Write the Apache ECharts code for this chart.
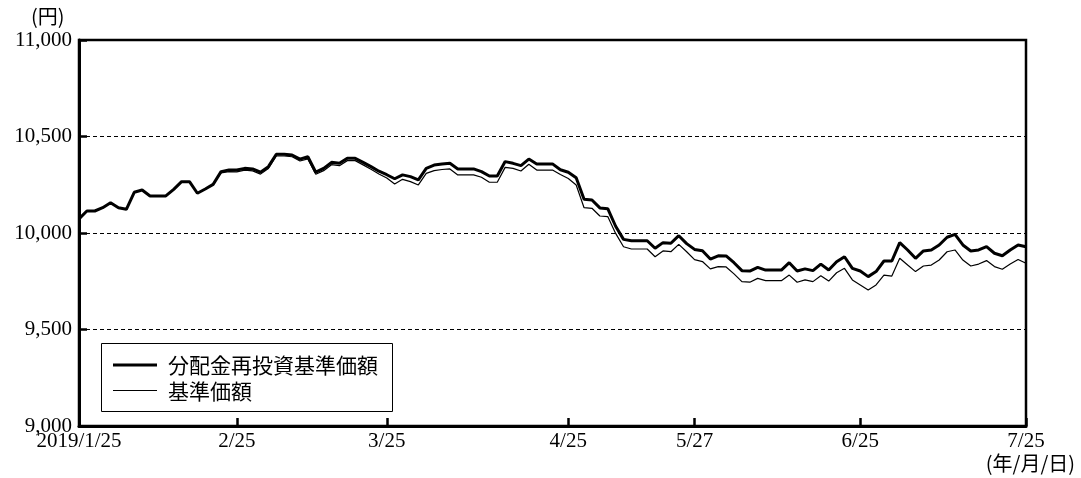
<!DOCTYPE html>
<html>
<head>
<meta charset="utf-8">
<script src="https://cdn.jsdelivr.net/npm/echarts@6/dist/echarts.min.js"></script>
<style>
html,body{margin:0;padding:0;background:#fff;}
#chart{width:1081px;height:478px;}
</style>
</head>
<body>
<div id="chart"></div>
<script>
// Business days (categories)
const dates = [
'2019/1/25','2019/1/28','2019/1/29','2019/1/30','2019/1/31',
'2019/2/1','2019/2/4','2019/2/5','2019/2/6','2019/2/7','2019/2/8','2019/2/12','2019/2/13','2019/2/14','2019/2/15','2019/2/18','2019/2/19','2019/2/20','2019/2/21','2019/2/22','2019/2/25','2019/2/26','2019/2/27','2019/2/28',
'2019/3/1','2019/3/4','2019/3/5','2019/3/6','2019/3/7','2019/3/8','2019/3/11','2019/3/12','2019/3/13','2019/3/14','2019/3/15','2019/3/18','2019/3/19','2019/3/20','2019/3/22','2019/3/25','2019/3/26','2019/3/27','2019/3/28','2019/3/29',
'2019/4/1','2019/4/2','2019/4/3','2019/4/4','2019/4/5','2019/4/8','2019/4/9','2019/4/10','2019/4/11','2019/4/12','2019/4/15','2019/4/16','2019/4/17','2019/4/18','2019/4/19','2019/4/22','2019/4/23','2019/4/24','2019/4/25','2019/4/26',
'2019/5/7','2019/5/8','2019/5/9','2019/5/10','2019/5/13','2019/5/14','2019/5/15','2019/5/16','2019/5/17','2019/5/20','2019/5/21','2019/5/22','2019/5/23','2019/5/24','2019/5/27','2019/5/28','2019/5/29','2019/5/30','2019/5/31',
'2019/6/3','2019/6/4','2019/6/5','2019/6/6','2019/6/7','2019/6/10','2019/6/11','2019/6/12','2019/6/13','2019/6/14','2019/6/17','2019/6/18','2019/6/19','2019/6/20','2019/6/21','2019/6/24','2019/6/25','2019/6/26','2019/6/27','2019/6/28',
'2019/7/1','2019/7/2','2019/7/3','2019/7/4','2019/7/5','2019/7/8','2019/7/9','2019/7/10','2019/7/11','2019/7/12','2019/7/16','2019/7/17','2019/7/18','2019/7/19','2019/7/22','2019/7/23','2019/7/24','2019/7/25'
];

// 分配金再投資基準価額
const reinvestedNav = [
10073,10114,10114,10131,10157,10131,10123,10211,10223,10192,
10192,10192,10226,10266,10266,10206,10228,10252,10318,10326,
10326,10335,10332,10315,10344,10408,10408,10404,10383,10395,
10315,10335,10366,10361,10387,10387,10366,10344,10320,10302,
10281,10301,10292,10275,10335,10352,10358,10361,10332,10332,
10332,10318,10295,10295,10370,10361,10349,10383,10358,10358,
10358,10328,10315,10286,10175,10171,10130,10126,10035,9967,
9960,9960,9960,9921,9950,9947,9986,9945,9915,9908,
9865,9882,9881,9846,9805,9803,9822,9808,9808,9808,
9846,9803,9814,9805,9839,9808,9851,9877,9817,9803,
9774,9800,9855,9855,9950,9912,9869,9907,9912,9938,
9978,9993,9938,9907,9912,9929,9895,9882,9912,9938,
9929
];

// 基準価額
const nav = [
10073,10114,10114,10131,10157,10131,10123,10211,10223,10192,
10192,10192,10226,10266,10266,10206,10228,10252,10312,10318,
10317,10326,10322,10305,10334,10399,10399,10395,10373,10384,
10304,10323,10354,10349,10375,10375,10353,10330,10306,10285,
10254,10278,10266,10249,10309,10323,10329,10332,10301,10301,
10301,10289,10263,10263,10340,10335,10321,10356,10326,10326,
10326,10303,10282,10249,10131,10128,10088,10085,9998,9929,
9917,9917,9917,9877,9907,9903,9941,9903,9862,9852,
9814,9826,9824,9788,9748,9745,9765,9753,9753,9753,
9782,9745,9757,9748,9779,9751,9794,9817,9757,9731,
9705,9731,9782,9777,9869,9834,9800,9829,9834,9860,
9903,9912,9860,9829,9839,9857,9826,9812,9839,9863,
9843
];

const tickDates = ['2019/1/25','2019/2/25','2019/3/25','2019/4/25','2019/5/27','2019/6/25','2019/7/25'];
const tickLabels = ['2019/1/25','2/25','3/25','4/25','5/27','6/25','7/25'];
const seriesNames = ['分配金再投資基準価額','基準価額'];

const numFont = 'Liberation Serif';
const cjkFont = 'Noto Sans CJK JP';

const chart = echarts.init(document.getElementById('chart'), null, {renderer:'canvas'});
const isTick = (idx, val) => tickDates.indexOf(val) >= 0;

chart.setOption({
  animation: false,
  backgroundColor: '#fff',
  grid: {left: 79, right: 55, top: 40, bottom: 52, show: true, borderColor: '#000', borderWidth: 2.5, backgroundColor: 'transparent'},
  xAxis: {
    type: 'category',
    data: dates,
    boundaryGap: false,
    axisLine: {show: true, lineStyle: {color: '#000', width: 3}},
    axisTick: {show: true, inside: true, length: 8, interval: isTick, lineStyle: {color: '#000', width: 2.5}},
    axisLabel: {
      interval: isTick, margin: 5, color: '#000', fontFamily: numFont, fontSize: 21,
      formatter: (val) => tickLabels[tickDates.indexOf(val)]
    },
    splitLine: {show: false}
  },
  yAxis: {
    type: 'value',
    min: 9000, max: 11000, interval: 500,
    axisLine: {show: true, lineStyle: {color: '#000', width: 3}},
    axisTick: {show: true, inside: true, length: 8, lineStyle: {color: '#000', width: 2.5}},
    axisLabel: {
      margin: 7, color: '#000', fontFamily: numFont, fontSize: 21,
      formatter: (v) => v.toLocaleString('en-US')
    },
    splitLine: {show: true, lineStyle: {color: '#000', width: 1, type: [4, 3]}}
  },
  series: [
    {name: seriesNames[0], type: 'line', data: reinvestedNav, symbol: 'none', lineStyle: {color: '#000', width: 3}, z: 3},
    {name: seriesNames[1], type: 'line', data: nav, symbol: 'none', lineStyle: {color: '#000', width: 1.2}, z: 4}
  ],
  graphic: [
    {type: 'text', left: 31, top: 6, style: {text: '(円)', font: '20px "Noto Sans CJK JP"', fill: '#000'}},
    {type: 'text', right: 6, top: 453, style: {text: '(年/月/日)', font: '20px "Noto Sans CJK JP"', fill: '#000'}},
    // legend box
    {type: 'rect', z: 10, shape: {x: 101.5, y: 343.5, width: 291, height: 68}, style: {fill: '#fff', stroke: '#000', lineWidth: 1}},
    {type: 'line', z: 11, shape: {x1: 113, y1: 365, x2: 157, y2: 365}, style: {stroke: '#000', lineWidth: 3}},
    {type: 'line', z: 11, shape: {x1: 113, y1: 390.5, x2: 157, y2: 390.5}, style: {stroke: '#000', lineWidth: 1}},
    {type: 'text', z: 11, x: 168, y: 365, style: {text: seriesNames[0], font: '21px "Noto Sans CJK JP"', fill: '#000', verticalAlign: 'middle'}},
    {type: 'text', z: 11, x: 168, y: 391, style: {text: seriesNames[1], font: '21px "Noto Sans CJK JP"', fill: '#000', verticalAlign: 'middle'}}
  ]
});
</script>
</body>
</html>
